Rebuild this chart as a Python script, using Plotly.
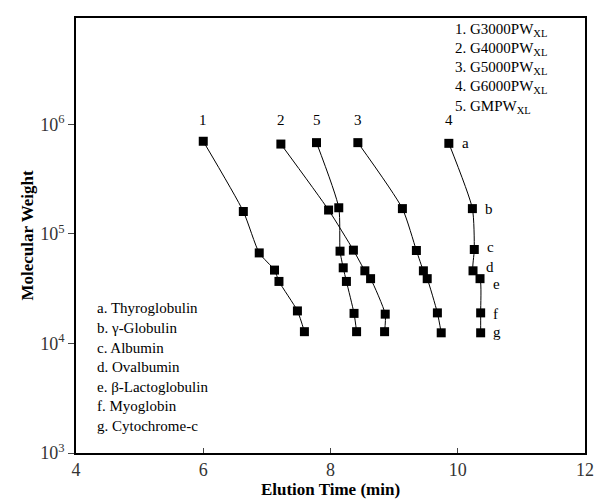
import math
import plotly.graph_objects as go

columns = ["1", "2", "3", "4", "5"]
column_names = ["G3000PW<sub>XL</sub>", "G4000PW<sub>XL</sub>", "G5000PW<sub>XL</sub>",
                "G6000PW<sub>XL</sub>", "GMPW<sub>XL</sub>"]
proteins = ["a", "b", "c", "d", "e", "f", "g"]
protein_names = ["Thyroglobulin", "γ-Globulin", "Albumin", "Ovalbumin",
                 "β-Lactoglobulin", "Myoglobin", "Cytochrome-c"]
mw = {
    "1": [7.0e5, 1.6e5, 6.7e4, 4.67e4, 3.68e4, 1.98e4, 1.28e4],
    "2": [6.6e5, 1.65e5, 7.1e4, 4.6e4, 3.9e4, 1.85e4, 1.28e4],
    "3": [6.8e5, 1.7e5, 7.05e4, 4.6e4, 3.9e4, 1.9e4, 1.25e4],
    "4": [6.7e5, 1.7e5, 7.2e4, 4.6e4, 3.9e4, 1.9e4, 1.25e4],
    "5": [6.8e5, 1.73e5, 6.95e4, 4.9e4, 3.68e4, 1.88e4, 1.28e4],
}
times = {
    "1": [6.00, 6.63, 6.88, 7.12, 7.19, 7.48, 7.59],
    "2": [7.22, 7.97, 8.36, 8.54, 8.63, 8.86, 8.85],
    "3": [8.43, 9.13, 9.35, 9.46, 9.52, 9.68, 9.74],
    "4": [9.86, 10.23, 10.26, 10.24, 10.35, 10.36, 10.36],
    "5": [7.78, 8.13, 8.15, 8.20, 8.25, 8.37, 8.41],
}
letter_y = [5.83, 5.23, 4.88, 4.70, 4.54, 4.27, 4.10]

F = "Liberation Serif, Times New Roman, serif"
fig = go.Figure()
for c in columns:
    fig.add_trace(go.Scatter(x=times[c], y=mw[c], mode="lines",
                             line=dict(color="black", width=1, shape="spline", smoothing=0.6),
                             showlegend=False))
    fig.add_trace(go.Scatter(x=times[c], y=mw[c], mode="markers",
                             marker=dict(symbol="square", size=9, color="black"),
                             showlegend=False))

ann = []
for c in columns:
    ann.append(dict(x=times[c][0], y=5.95, text=c, showarrow=False, yanchor="bottom",
                    font=dict(size=15, family=F, color="black")))
for i, p in enumerate(proteins):
    ann.append(dict(x=times["4"][i] + 0.17, y=letter_y[i], text=p, showarrow=False,
                    xanchor="left", font=dict(size=15, family=F, color="black")))
leg_y = [6.86, 6.69, 6.51, 6.34, 6.16]
for i, c in enumerate(columns):
    ann.append(dict(x=9.93, y=leg_y[i], text=f"{c}. {column_names[i]}", showarrow=False,
                    xanchor="left", font=dict(size=15, family=F, color="black")))
pl_y = [4.32, 4.14, 3.96, 3.785, 3.605, 3.43, 3.245]
for i, p in enumerate(proteins):
    ann.append(dict(x=4.3, y=pl_y[i], text=f"{p}. {protein_names[i]}", showarrow=False,
                    xanchor="left", font=dict(size=15, family=F, color="black")))

fig.update_layout(
    width=594, height=492, margin=dict(l=68, r=8, t=8, b=40),
    plot_bgcolor="white", paper_bgcolor="white", annotations=ann,
    font=dict(family=F, color="black"),
)
fig.update_xaxes(range=[4, 12], tickvals=[4, 6, 8, 10, 12], ticks="inside", ticklen=5,
                 showline=True, linecolor="black", linewidth=1.5, mirror=True, showgrid=False,
                 zeroline=False, tickfont=dict(size=18, family=F, color="#333"),
                 title=dict(text="<b>Elution Time (min)</b>", font=dict(size=17, family=F), standoff=0))
fig.update_yaxes(type="log", range=[3, 6.97], tickvals=[1e3, 1e4, 1e5, 1e6],
                 ticktext=["10<sup>3</sup>", "10<sup>4</sup>", "10<sup>5</sup>", "10<sup>6</sup>"],
                 ticks="outside", ticklen=6, showline=True, linecolor="black", linewidth=1.5,
                 mirror=True, showgrid=False, zeroline=False,
                 tickfont=dict(size=18, family=F, color="#333"),
                 title=dict(text="<b>Molecular Weight</b>", font=dict(size=17, family=F), standoff=2))
fig.write_html("out.html")
